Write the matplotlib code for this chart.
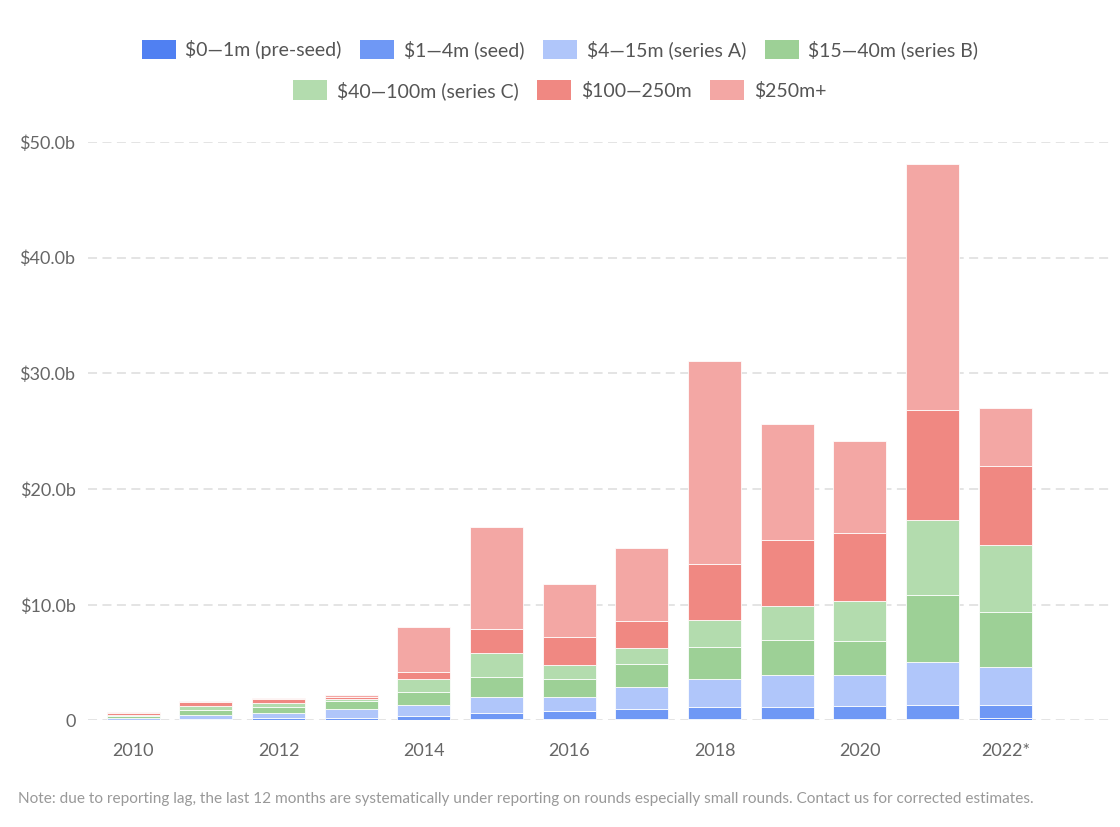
import matplotlib
matplotlib.use("Agg")
import matplotlib.pyplot as plt
from matplotlib.patches import Patch
import numpy as np

plt.rcParams['font.family'] = ['Lato', 'DejaVu Sans']

# values in $b
years = ["2010", "2011", "2012", "2013", "2014", "2015", "2016",
         "2017", "2018", "2019", "2020", "2021", "2022*"]
pre_seed = [0.01, 0.05, 0.05, 0.05, 0.06, 0.16, 0.10, 0.16, 0.16, 0.16, 0.16, 0.16, 0.19]
seed = [0.04, 0.12, 0.15, 0.18, 0.34, 0.51, 0.72, 0.83, 1.03, 0.98, 1.06, 1.21, 1.12]
series_a = [0.20, 0.30, 0.48, 0.75, 0.95, 1.33, 1.18, 1.93, 2.42, 2.76, 2.68, 3.66, 3.29]
series_b = [0.14, 0.45, 0.50, 0.70, 1.15, 1.73, 1.58, 1.98, 2.76, 3.03, 2.94, 5.81, 4.80]
series_c = [0.12, 0.30, 0.33, 0.20, 1.10, 2.10, 1.19, 1.33, 2.28, 2.96, 3.48, 6.53, 5.78]
r100_250 = [0.14, 0.38, 0.35, 0.12, 0.60, 2.10, 2.47, 2.37, 4.89, 5.70, 5.90, 9.43, 6.82]
r250_plus = [0.09, 0.10, 0.08, 0.20, 3.90, 8.77, 4.52, 6.30, 17.56, 10.00, 7.90, 21.30, 5.00]

labels = ["\\$0—1m (pre-seed)", "\\$1—4m (seed)", "\\$4—15m (series A)",
          "\\$15—40m (series B)", "\\$40—100m (series C)", "\\$100—250m", "\\$250m+"]
colors = ["#5080f2", "#6f98f5", "#b0c6fa", "#9dd096", "#b3dcae", "#f08882", "#f3a7a4"]
series = [pre_seed, seed, series_a, series_b, series_c, r100_250, r250_plus]

fig = plt.figure(figsize=(11.2, 8.27), dpi=100)
ax = fig.add_axes([0.0786, 0.1288, 0.9144, 0.6995])

x = np.arange(len(years))
bottom = np.zeros(len(years))
for vals, col in zip(series, colors):
    ax.bar(x, vals, 0.73, bottom=bottom, color=col, edgecolor=(1, 1, 1, 0.8),
           linewidth=0.7, zorder=2)
    bottom += np.array(vals)

ax.set_xlim(-0.62, 13.47)
ax.set_ylim(0, 50)
ax.set_yticks([0, 10, 20, 30, 40, 50])
ax.set_yticklabels(["0", "\\$10.0b", "\\$20.0b", "\\$30.0b", "\\$40.0b", "\\$50.0b"])
ax.set_xticks(x[::2])
ax.set_xticklabels(years[::2])
ax.tick_params(axis="both", length=0, labelsize=13, labelcolor="#666666")
ax.tick_params(axis="x", pad=16)
ax.tick_params(axis="y", pad=9)
ax.grid(axis="y", color="#e2e2e2", linestyle=(0, (5, 3)), linewidth=1.3, zorder=0)
for s in ax.spines.values():
    s.set_visible(False)

handles = [Patch(facecolor=c, edgecolor="none") for c in colors]
leg_kw = dict(loc="center", frameon=False, fontsize=14, handlelength=1.75, handleheight=1.15,
              columnspacing=0.95, handletextpad=0.5, labelcolor="#555555")
fig.legend(handles[:4], labels[:4], bbox_to_anchor=(0.5, 0.94), ncol=4, **leg_kw)
fig.legend(handles[4:], labels[4:], bbox_to_anchor=(0.5, 0.891), ncol=3, **leg_kw)

fig.text(0.016, 0.034, "Note: due to reporting lag, the last 12 months are systematically under "
         "reporting on rounds especially small rounds. Contact us for corrected estimates.",
         fontsize=11.1, color="#999999", va="center")

fig.savefig("out.png", dpi=100)
